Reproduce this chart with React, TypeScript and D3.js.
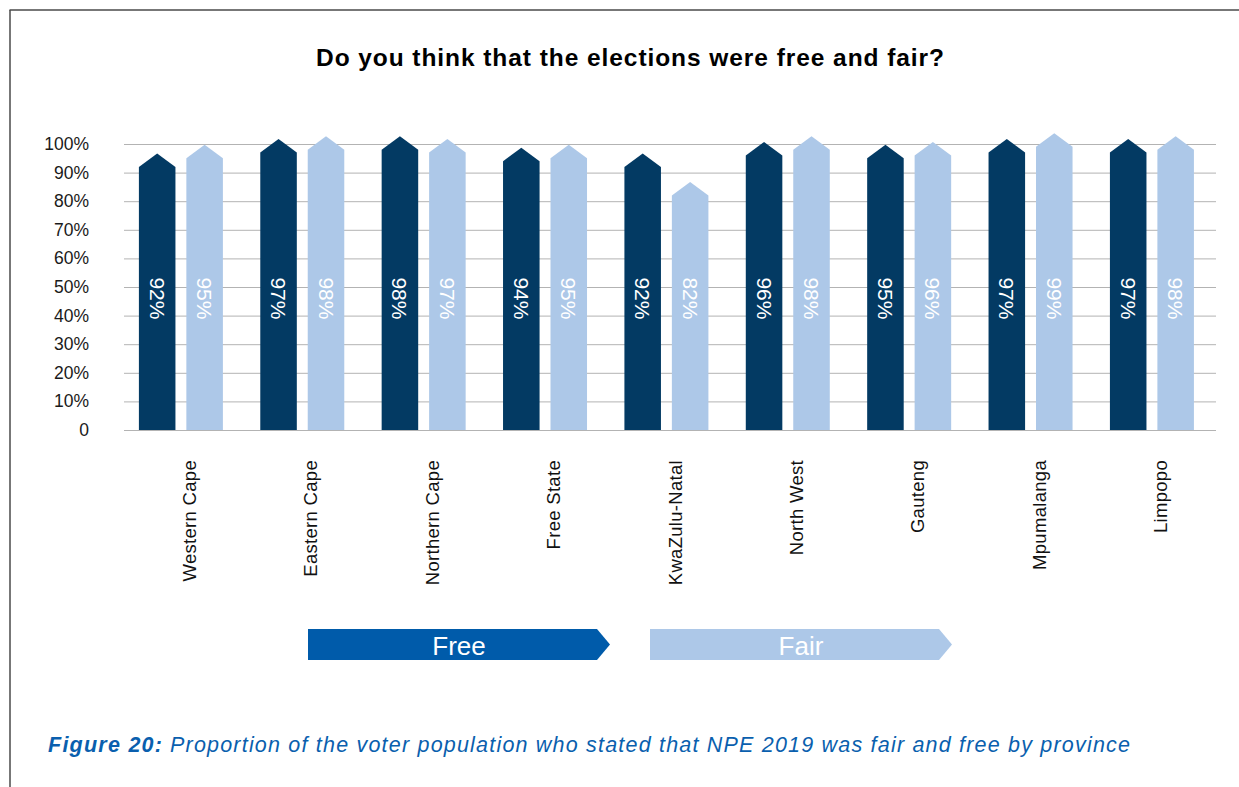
import React from "react";
import * as d3 from "d3";

const provinces = ["Western Cape", "Eastern Cape", "Northern Cape", "Free State", "KwaZulu-Natal", "North West", "Gauteng", "Mpumalanga", "Limpopo"];
const freeValues = [92, 97, 98, 94, 92, 96, 95, 97, 97];
const fairValues = [95, 98, 97, 95, 82, 98, 96, 99, 98];
const yTicks = [0, 10, 20, 30, 40, 50, 60, 70, 80, 90, 100];
const seriesNames = ["Free", "Fair"];
const seriesColors = ["#033a63", "#adc8e8"];
const legendColors = ["#005baa", "#adc8e8"];

const W = 1239, H = 787;
const FONT = "'Liberation Sans', Arial, Helvetica, sans-serif";

export default function App() {
  const y = d3.scaleLinear().domain([0, 100]).range([430, 144]);
  const x0 = d3.scaleBand<string>().domain(provinces).range([120.3, 1212.7]).paddingInner(0).paddingOuter(0);
  const x1 = d3.scaleBand<string>().domain(seriesNames).range([18.6, 102.6]).paddingInner(0.23);
  const tip = 13.5;
  const labelY = y(46);

  const arrowPath = (xl: number, w: number, v: number) => {
    const p = d3.path();
    p.moveTo(xl, y(0));
    p.lineTo(xl, y(v));
    p.lineTo(xl + w / 2, y(v) - tip);
    p.lineTo(xl + w, y(v));
    p.lineTo(xl + w, y(0));
    p.closePath();
    return p.toString();
  };

  const series = [freeValues, fairValues];

  return (
    <svg width={W} height={H} style={{ position: "absolute", left: 0, top: 0, background: "#fff" }} fontFamily={FONT}>
      <rect x={0} y={0} width={W} height={H} fill="#fff" />
      <line x1={9.5} y1={10} x2={W} y2={10} stroke="#4a4a4a" strokeWidth={1.5} />
      <line x1={10} y1={10} x2={10} y2={H} stroke="#4a4a4a" strokeWidth={1.5} />

      <text x={316} y={66} fontSize={24.5} fontWeight="bold" fill="#000" textLength={628}>
        Do you think that the elections were free and fair?
      </text>

      {yTicks.map((t) => (
        <g key={t}>
          <line x1={124} x2={1216} y1={y(t) + 0.5} y2={y(t) + 0.5} stroke="#b3b3b3" strokeWidth={1} />
          <text x={89} y={y(t) + 6} textAnchor="end" fontSize={17.5} fill="#1a1a1a">
            {t === 0 ? "0" : `${t}%`}
          </text>
        </g>
      ))}

      {provinces.map((p, i) => (
        <g key={p} transform={`translate(${x0(p)},0)`}>
          {seriesNames.map((s, j) => {
            const xl = x1(s)!;
            const w = x1.bandwidth();
            const v = series[j][i];
            return (
              <g key={s}>
                <path d={arrowPath(xl, w, v)} fill={seriesColors[j]} />
                <text
                  transform={`translate(${xl + w / 2 - 7.5},${labelY}) rotate(90)`}
                  textAnchor="middle"
                  fontSize={21}
                  fill="#fff"
                >
                  {v}%
                </text>
              </g>
            );
          })}
          <text
            transform={`translate(${x0.bandwidth() / 2 + 15},460) rotate(-90)`}
            textAnchor="end"
            fontSize={18.5}
            letterSpacing={0.3}
            fill="#111"
          >
            {p}
          </text>
        </g>
      ))}

      {seriesNames.map((s, j) => {
        const lx = 308 + j * 342;
        const p = d3.path();
        p.moveTo(lx, 629);
        p.lineTo(lx + 289, 629);
        p.lineTo(lx + 302, 644.5);
        p.lineTo(lx + 289, 660);
        p.lineTo(lx, 660);
        p.closePath();
        return (
          <g key={s}>
            <path d={p.toString()} fill={legendColors[j]} />
            <text x={lx + 151} y={655} textAnchor="middle" fontSize={26} fill="#fff">
              {s}
            </text>
          </g>
        );
      })}

      <text x={48} y={752} fontSize={21.5} fontStyle="italic" fontWeight="bold" fill="#0a5fae" textLength={114}>
        Figure 20:
      </text>
      <text x={170} y={752} fontSize={21.5} fontStyle="italic" fill="#0a5fae" textLength={960}>
        Proportion of the voter population who stated that NPE 2019 was fair and free by province
      </text>
    </svg>
  );
}
